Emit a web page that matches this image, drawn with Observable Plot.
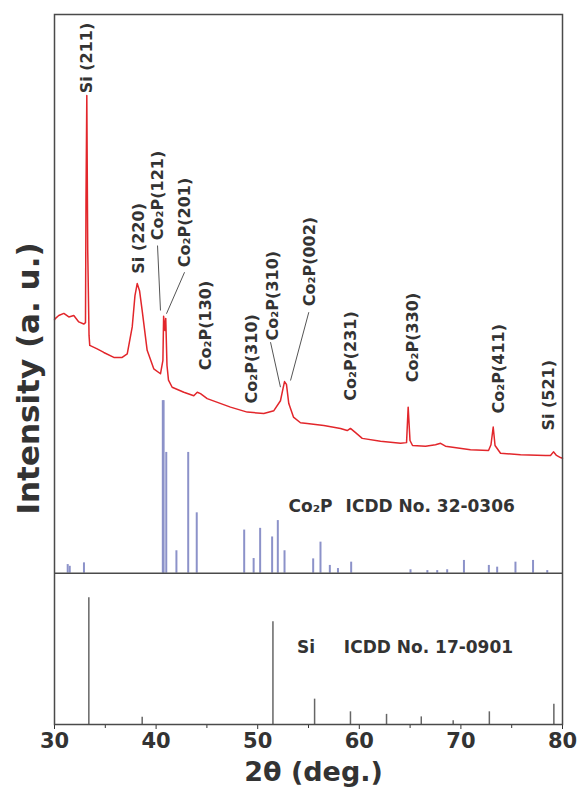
<!DOCTYPE html>
<html><head><meta charset="utf-8">
<script src="https://cdn.jsdelivr.net/npm/d3@7"></script>
<script src="https://cdn.jsdelivr.net/npm/@observablehq/plot@0.6"></script>
<style>body{margin:0;background:#fff;}</style>
</head><body><div id="chart"></div>
<script>
// Measured XRD pattern (2θ in degrees, intensity in a.u. incl. vertical offset)
const xrdTwoTheta = [30.0,30.1,30.42,30.92,31.41,31.9,32.39,32.88,33.05,33.1,33.18,33.27,33.4,33.47,34.2,34.85,35.84,36.66,37.16,37.65,37.92,38.14,38.37,38.63,39.12,39.77,40.43,40.67,40.74,40.87,40.95,41.07,41.22,41.58,42.73,43.71,44.05,44.37,45.03,47.32,48.97,50.6,51.59,52.24,52.49,52.64,52.83,53.06,53.52,54.21,54.87,56.51,58.15,58.81,59.13,59.63,60.29,62.09,64.06,64.65,64.81,64.99,65.24,66.52,67.5,68.0,68.48,70.94,72.72,72.96,73.18,73.36,73.9,75.87,78.33,78.82,79.11,79.41,79.8,80];
const xrdIntensity = [57.0,57.2,57.6,57.9,57.4,57.6,56.7,56.4,56.6,73.8,88.6,66.8,54.8,53.4,52.9,52.4,51.7,51.7,52.2,56.0,60.4,62.1,61.1,58.3,52.7,50.1,49.4,51.3,57.5,55.5,57.2,50.6,48.5,47.5,46.8,46.3,46.8,46.6,45.9,44.7,44.0,43.8,44.2,45.6,47.3,48.3,47.9,45.2,43.3,42.5,42.4,42.1,41.7,41.4,41.7,41.1,40.3,39.9,39.6,39.7,44.7,40.0,39.3,39.2,39.4,39.6,39.2,38.7,38.6,39.4,41.9,39.3,38.2,38.0,37.9,37.9,38.4,37.9,37.6,37.5];

// Co2P reference pattern ICDD 32-0306 (relative intensity, max 100)
const co2pTwoTheta = [31.3,31.5,32.9,40.66,40.74,41.0,42.0,43.16,44.0,48.67,49.6,50.24,51.42,51.98,52.64,55.46,56.18,57.1,57.9,59.2,65.04,66.7,67.67,68.65,70.3,72.75,73.57,75.37,77.1,78.5];
const co2pRelInt   = [5,4,6,100,100,70,13,70,35,25,8.5,26,21,30.5,13,8.3,18,4.5,2.7,6.4,2,1.5,1.5,2,7.4,4.5,3.5,6.4,7.4,1.5];

// Si reference pattern ICDD 17-0901 (relative intensity, max 100)
const siTwoTheta = [33.38,38.63,51.5,55.6,59.13,62.68,66.1,69.24,72.8,79.15];
const siRelInt   = [100,5.8,81,20,10,8,6,3,10,16];

// Peak labels
const peakLabelText = ["Si (211)","Si (220)","Co₂P(121)","Co₂P(201)","Co₂P(130)","Co₂P(310)","Co₂P(310)","Co₂P(002)","Co₂P(231)","Co₂P(330)","Co₂P(411)","Si (521)"];
const peakLabelX    = [33.2,38.27,40.14,42.8,44.86,49.39,51.46,55.1,59.13,65.24,73.7,78.62];
const peakLabelY    = [88.9,63.5,68.2,64.4,49.9,45.2,54.1,58.9,45.6,48.2,43.8,41.4];

// Leader lines
const leaderX1 = [40.14,42.8,51.26,55.03];
const leaderY1 = [67.46,63.7,53.85,58.07];
const leaderX2 = [40.43,41.02,52.24,53.23];
const leaderY2 = [58.31,57.85,47.51,48.45];

// Panel baselines / scaling (a.u.)
const siBase = 0;
const siScale = 0.1785;
const co2pBase = 21.31;
const co2pScale = 0.243;

const majorTicks = [30,40,50,60,70,80];
const minorTicks = [35,45,55,65,75];

const xrd = xrdTwoTheta.map((x,i)=>({x, y: xrdIntensity[i]}));
const co2p = co2pTwoTheta.map((x,i)=>({x, y1: co2pBase, y2: co2pBase + co2pRelInt[i]*co2pScale}));
const si = siTwoTheta.map((x,i)=>({x, y1: siBase, y2: siBase + siRelInt[i]*siScale}));
const labels = peakLabelText.map((t,i)=>({t, x: peakLabelX[i], y: peakLabelY[i]}));
const leaders = leaderX1.map((x1,i)=>({x1, y1: leaderY1[i], x2: leaderX2[i], y2: leaderY2[i]}));
const refTexts = [
  {t:"Co₂P", x:53.03, y:30.7},
  {t:"ICDD No. 32-0306", x:58.65, y:30.7},
  {t:"Si", x:53.87, y:10.9},
  {t:"ICDD No. 17-0901", x:58.48, y:10.9}
];

const FONT = "DejaVu Sans";
const chart = Plot.plot({
  width: 577, height: 798,
  marginLeft: 54, marginRight: 15, marginTop: 14, marginBottom: 74,
  style: {fontFamily: FONT, color: "#333", background: "#fff"},
  x: {domain: [30, 80]},
  y: {domain: [0, 100], axis: null},
  marks: [
    Plot.ruleX(si, {x: "x", y1: "y1", y2: "y2", stroke: "#666", strokeWidth: 1.5}),
    Plot.ruleX(co2p, {x: "x", y1: "y1", y2: "y2", stroke: "#8c92c9", strokeWidth: 2}),
    Plot.ruleY([co2pBase], {stroke: "#4a4a4a", strokeWidth: 1.5}),
    Plot.line(xrd, {x: "x", y: "y", stroke: "#e2262b", strokeWidth: 1.5}),
    Plot.link(leaders, {x1: "x1", y1: "y1", x2: "x2", y2: "y2", stroke: "#555", strokeWidth: 1}),
    Plot.text(labels, {x: "x", y: "y", text: "t", rotate: -90, textAnchor: "start", fontSize: 16, fontWeight: "bold", fill: "#333"}),
    Plot.text(refTexts, {x: "x", y: "y", text: "t", textAnchor: "start", fontSize: 17, fontWeight: "bold", fill: "#333"}),
    Plot.axisX({ticks: majorTicks, tickSize: 5, tickPadding: 4, fontSize: 21, fontWeight: "bold", label: null, tickFormat: d => d}),
    Plot.axisX({ticks: minorTicks, tickSize: 4, text: null, label: null}),
    Plot.frame({stroke: "#4a4a4a", strokeWidth: 1.5}),
    Plot.text(["2θ (deg.)"], {frameAnchor: "bottom", dx: 5, dy: 56, fontSize: 27, fontWeight: "bold", fill: "#333"}),
    Plot.text(["Intensity (a. u.)"], {frameAnchor: "left", dx: -25, dy: 145, rotate: -90, fontSize: 31, fontWeight: "bold", fill: "#333"})
  ]
});
document.getElementById("chart").appendChild(chart);
</script>
</body></html>
